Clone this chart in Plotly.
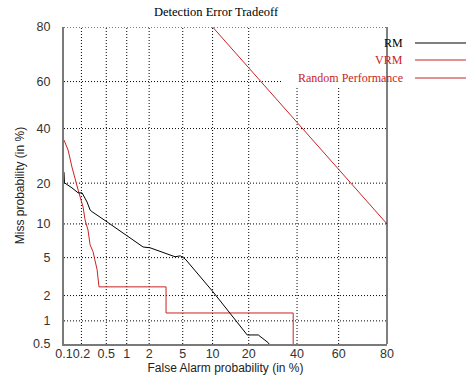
import plotly.graph_objects as go
from statistics import NormalDist

nd = NormalDist()

def probit(p_percent):
    p = min(max(p_percent / 100.0, 1e-6), 1 - 1e-6)
    return nd.inv_cdf(p)

# Data (percent)
rm_fa = [0.1, 0.102, 0.138, 0.176, 0.205, 0.248, 0.278, 0.30, 0.514, 1.67, 2.05, 4.1, 4.7, 5.3, 10.1, 14.3, 19.5, 23.4, 27.3, 28.5]
rm_miss = [23.5, 20.1, 18.6, 17.2, 17.2, 14.8, 12.9, 12.5, 10.4, 6.3, 6.2, 5.1, 5.2, 4.87, 2.2, 1.25, 0.66, 0.66, 0.52, 0.45]

vrm_fa = [0.1, 0.118, 0.138, 0.156, 0.176, 0.213, 0.23, 0.257, 0.278, 0.31, 0.36, 0.386, 3.23, 3.23, 38.2, 38.2]
vrm_miss = [35.3, 31.4, 25.2, 21.0, 18.0, 13.6, 10.8, 8.9, 6.6, 5.7, 3.8, 2.5, 2.5, 1.25, 1.25, 0.3]

rand_fa = [10, 80]
rand_miss = [80, 10]

x_ticks = [0.1, 0.2, 0.5, 1, 2, 5, 10, 20, 40, 60, 80]
x_tick_labels = ["0.1", "0.2", "0.5", "1", "2", "5", "10", "20", "40", "60", "80"]
y_ticks = [0.5, 1, 2, 5, 10, 20, 40, 60, 80]
y_tick_labels = ["0.5", "1", "2", "5", "10", "20", "40", "60", "80"]

legend_names = ["RM", "VRM", "Random Performance"]

RED = "rgb(200,35,35)"
BLACK = "black"

W, H = 467, 380
# desired plot box in window pixels
PX0, PX1, PY0, PY1 = 64, 387, 27, 344
ML, MR, MT, MB = PX0, W - PX1, PY0, H - PY1

fig = go.Figure()
fig.add_trace(go.Scatter(x=[probit(v) for v in rand_fa], y=[probit(v) for v in rand_miss],
                         mode="lines", line=dict(color=RED, width=1), name=legend_names[2]))
fig.add_trace(go.Scatter(x=[probit(v) for v in vrm_fa], y=[probit(v) for v in vrm_miss],
                         mode="lines", line=dict(color=RED, width=1), name=legend_names[1]))
fig.add_trace(go.Scatter(x=[probit(v) for v in rm_fa], y=[probit(v) for v in rm_miss],
                         mode="lines", line=dict(color=BLACK, width=1), name=legend_names[0]))

axis_common = dict(
    showgrid=False, automargin=False,
    zeroline=False, showline=True, linecolor="#7a7a7a", linewidth=2,
    ticks="", tickangle=0,
    tickfont=dict(family="Liberation Sans, Arial", size=12.5, color="#333333"),
)

x0r, x1r = probit(0.1), probit(80)
y0r, y1r = probit(0.5), probit(80)

fig.update_xaxes(
    range=[x0r, x1r],
    tickvals=[probit(v) for v in x_ticks], ticktext=x_tick_labels,
    title=dict(text="False Alarm probability (in %)", standoff=0,
               font=dict(family="Liberation Sans, Arial", size=12, color="#222222")),
    ticklabelstandoff=-3,
    **axis_common,
)
fig.update_yaxes(
    range=[y0r, y1r],
    tickvals=[probit(v) for v in y_ticks], ticktext=y_tick_labels,
    title=dict(text="Miss probability (in %)", standoff=6,
               font=dict(family="Liberation Sans, Arial", size=12, color="#222222")),
    ticklabelstandoff=9,
    **axis_common,
)

pw = PX1 - PX0
ph = PY1 - PY0

def px_x(px):
    return (px - PX0) / pw

def px_y(py):
    return 1 - (py - PY0) / ph

# legend box region (kept free of grid lines), in data units
box_x = x0r + (282 - PX0) / pw * (x1r - x0r)
box_y = y1r - (86 - PY0) / ph * (y1r - y0r)

GRID = dict(color="black", width=1, dash="1px,2px")
shapes = []
for v in x_ticks[1:-1]:
    xv = probit(v)
    ytop = box_y if xv > box_x else y1r
    shapes.append(dict(type="line", xref="x", yref="y", x0=xv, x1=xv, y0=y0r, y1=ytop,
                       line=GRID, layer="below"))
for v in y_ticks[1:]:
    yv = probit(v)
    xend = box_x if (yv > box_y and v != y_ticks[-1]) else x1r
    shapes.append(dict(type="line", xref="x", yref="y", x0=x0r, x1=xend, y0=yv, y1=yv,
                       line=GRID, layer="below"))
# right border
shapes.append(dict(type="line", xref="paper", yref="paper", x0=1, x1=1, y0=0, y1=1,
                   line=dict(color="black", width=1)))

annotations = [
    dict(text="Detection Error Tradeoff", xref="paper", yref="paper",
         x=px_x(216), y=px_y(12), showarrow=False, xanchor="center", yanchor="middle",
         font=dict(family="Liberation Serif, Times New Roman", size=12.5, color="black")),
]
legend_colors = [BLACK, RED, RED]
legend_rows = [43, 60, 78]
for name, col, py in zip(legend_names, legend_colors, legend_rows):
    annotations.append(dict(text=name, xref="paper", yref="paper", x=px_x(405), y=px_y(py),
                            showarrow=False, xanchor="right", yanchor="middle",
                            font=dict(family="Liberation Serif, Times New Roman", size=12, color=col)))
    shapes.append(dict(type="line", xref="paper", yref="paper", x0=px_x(415), x1=px_x(466),
                       y0=px_y(py), y1=px_y(py), line=dict(color=col, width=1)))

fig.update_layout(
    width=W, height=H,
    margin=dict(l=ML, r=MR, t=MT, b=MB, pad=0),
    paper_bgcolor="white", plot_bgcolor="white",
    showlegend=False,
    shapes=shapes, annotations=annotations,
)

fig.write_html("out.html",
               config={"displayModeBar": False},
               post_script="document.body.style.margin='0px';document.body.style.overflow='hidden';")
